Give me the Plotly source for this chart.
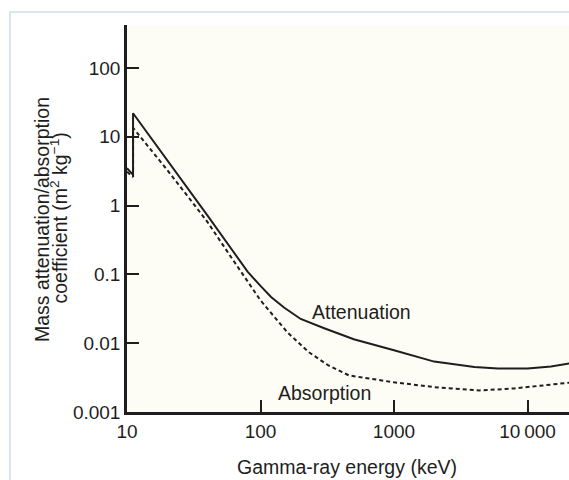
import plotly.graph_objects as go

# ---- data ----
energy_att = [10, 11.1, 11.1, 20, 30, 40, 60, 80, 100, 120, 150, 200, 300, 500,
              1000, 2000, 4000, 6000, 10000, 15000, 21000]
attenuation = [3.5, 2.8, 22, 4.6, 1.6, 0.72, 0.24, 0.11, 0.068, 0.047, 0.033, 0.0225,
               0.0165, 0.0114, 0.0079, 0.0054, 0.0045, 0.0043, 0.0043, 0.0046, 0.0051]

energy_abs = [10, 11.1, 11.1, 20, 30, 40, 60, 80, 100, 120, 160, 230, 320, 460,
              1000, 2000, 4400, 8000, 21000]
absorption = [3.1, 2.6, 13.5, 3.3, 1.2, 0.58, 0.18, 0.078, 0.042, 0.0275, 0.0142, 0.0074,
              0.0048, 0.0034, 0.0027, 0.0023, 0.00206, 0.0022, 0.00268]

y_tickvals = [0.001, 0.01, 0.1, 1, 10, 100]
y_ticktext = ["0.001", "0.01", "0.1", "1", "10", "100"]
x_tickvals = [10, 100, 1000, 10000]
x_ticktext = ["10", "100", "1000", "10\u2009000"]

FONT = "Liberation Sans, Arial, Helvetica, sans-serif"
INK = "#1e1e1e"
TS = 19.5

fig = go.Figure()
fig.add_trace(go.Scatter(x=energy_att, y=attenuation, mode="lines",
                         line=dict(color=INK, width=2), showlegend=False))
fig.add_trace(go.Scatter(x=energy_abs, y=absorption, mode="lines",
                         line=dict(color=INK, width=2, dash="4px,3px"), showlegend=False))

W, H = 569, 480
L, R, T, B = 127, 0, 25, 68
pw, ph = W - L - R, H - T - B

def px(xp):
    return (xp - L) / pw

def py(yp):
    return (H - B - yp) / ph

def ann(text, x, y, xref="paper", yref="paper", angle=0):
    return dict(text=text, x=x, y=y, xref=xref, yref=yref, textangle=angle,
                xanchor="center", yanchor="middle", showarrow=False,
                font=dict(size=TS, family=FONT, color=INK))

fig.update_layout(
    width=W, height=H,
    margin=dict(l=L, r=R, t=T, b=B),
    paper_bgcolor="white",
    plot_bgcolor="#fdfdf5",
    font=dict(family=FONT, size=19, color=INK),
    xaxis=dict(type="log", range=[1, 1 + pw / 133.5],
               tickvals=x_tickvals, ticktext=x_ticktext,
               ticks="inside", ticklen=12, tickwidth=2, tickcolor=INK,
               showline=True, linecolor=INK, linewidth=2.5,
               showgrid=False, zeroline=False,
               tickfont=dict(size=19, family=FONT, color=INK)),
    yaxis=dict(type="log", range=[-3, -3 + ph / 68.8],
               tickvals=y_tickvals, ticktext=y_ticktext,
               ticks="inside", ticklen=12, tickwidth=2, tickcolor=INK,
               showline=True, linecolor=INK, linewidth=2.5,
               showgrid=False, zeroline=False,
               tickfont=dict(size=19, family=FONT, color=INK)),
    shapes=[dict(type="path", xref="paper", yref="paper",
                 path=f"M {px(10)},{py(490)} L {px(10)},{py(12)} L {px(580)},{py(12)}",
                 line=dict(color="#dbe5f1", width=2))],
    annotations=[
        ann("Attenuation", 2.755, -1.541, "x", "y"),
        ann("Absorption", 2.478, -2.72, "x", "y"),
        ann("Gamma-ray energy (keV)", px(347), py(467)),
        ann("Mass attenuation/absorption", px(42), py(220), angle=-90),
        ann("coefficient (m<sup>2</sup> kg<sup>\u22121</sup>)", px(58.5), py(218), angle=-90),
    ],
)

fig.write_html("out.html")
